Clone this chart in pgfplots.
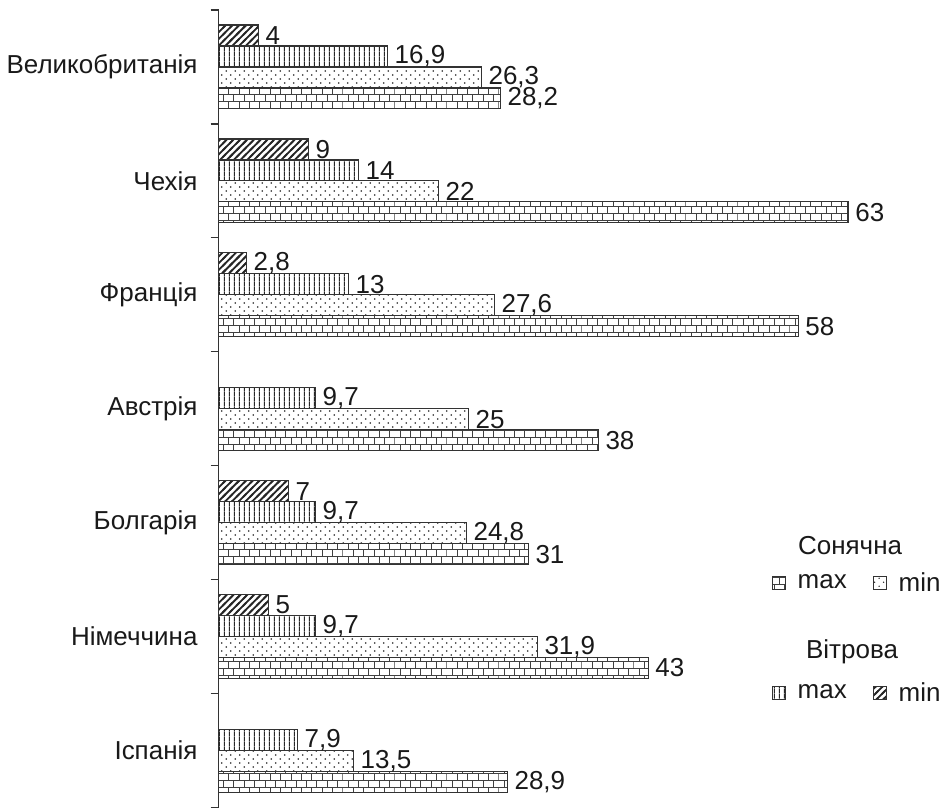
\documentclass[border=0pt]{standalone}
\usepackage{fontspec}
\setmainfont{Liberation Sans}
\usepackage{pgfplots}
\pgfplotsset{compat=1.18}
\usetikzlibrary{patterns}

% custom patterns (1px = 0.5pt)
\pgfdeclarepatternformonly{vlines}{\pgfqpoint{0pt}{0pt}}{\pgfqpoint{2.65pt}{2.65pt}}{\pgfqpoint{2.65pt}{2.65pt}}{%
  \pgfsetlinewidth{0.5pt}%
  \pgfpathmoveto{\pgfqpoint{1.325pt}{0pt}}\pgfpathlineto{\pgfqpoint{1.325pt}{2.65pt}}\pgfusepath{stroke}}
\pgfdeclarepatternformonly{hatch}{\pgfqpoint{-1pt}{-1pt}}{\pgfqpoint{4.4pt}{4.4pt}}{\pgfqpoint{3.4pt}{3.4pt}}{%
  \pgfsetlinewidth{0.9pt}%
  \pgfpathmoveto{\pgfqpoint{-1pt}{-1pt}}\pgfpathlineto{\pgfqpoint{4.4pt}{4.4pt}}\pgfusepath{stroke}}
\pgfdeclarepatternformonly{sdots}{\pgfqpoint{0pt}{0pt}}{\pgfqpoint{4.5pt}{4pt}}{\pgfqpoint{4.5pt}{4pt}}{%
  \pgfpathcircle{\pgfqpoint{1.125pt}{1pt}}{0.38pt}%
  \pgfpathcircle{\pgfqpoint{3.375pt}{3pt}}{0.38pt}%
  \pgfusepath{fill}}
\pgfdeclarepatternformonly{sbricks}{\pgfqpoint{-0.3pt}{-0.3pt}}{\pgfqpoint{5.5pt}{7.3pt}}{\pgfqpoint{5.2pt}{7pt}}{%
  \pgfsetlinewidth{0.5pt}%
  \pgfpathmoveto{\pgfqpoint{-0.3pt}{0pt}}\pgfpathlineto{\pgfqpoint{5.5pt}{0pt}}%
  \pgfpathmoveto{\pgfqpoint{-0.3pt}{3.5pt}}\pgfpathlineto{\pgfqpoint{5.5pt}{3.5pt}}%
  \pgfpathmoveto{\pgfqpoint{0pt}{0pt}}\pgfpathlineto{\pgfqpoint{0pt}{3.5pt}}%
  \pgfpathmoveto{\pgfqpoint{2.6pt}{3.5pt}}\pgfpathlineto{\pgfqpoint{2.6pt}{7pt}}%
  \pgfusepath{stroke}}

\pgfplotstableread{
y  vmin  vmax  smin  smax
0  nan   7.9   13.5  28.9
1  5     9.7   31.9  43
2  7     9.7   24.8  31
3  nan   9.7   25    38
4  2.8   13    27.6  58
5  9     14    22    63
6  4     16.9  26.3  28.2
}\datatable

\newcommand{\fs}{\fontsize{13}{15.5}\selectfont}

\begin{document}
\begin{tikzpicture}
\begin{axis}[
  x=5pt, y=57pt,
  xmin=0, xmax=72.3,
  ymin=-0.5, ymax=6.5,
  clip=false,
  axis x line=none,
  axis y line*=left,
  axis line style={black!80, line width=0.6pt},
  font=\fs,
  ytick={0,...,6},
  yticklabels={Іспанія,Німеччина,Болгарія,Австрія,Франція,Чехія,Великобританія},
  major tick length=0pt,
  minor ytick={-0.5,0.5,...,6.5},
  minor tick length=4pt,
  tick align=outside,
  minor tick style={black!80, line width=0.6pt},
  yticklabel style={font=\fs, xshift=-7pt, text=black!90},
  xbar,
  bar width=0.184,
  point meta=x,
  nodes near coords,
  nodes near coords style={font=\fs,
    /pgf/number format/assume math mode=true,
    /pgf/number format/use comma, text=black!90},
  legend columns=2,
  reverse legend,
  legend style={draw=none, fill=none, overlay, at={(axis cs:72.7,0.985)}, anchor=east,
    inner sep=0pt, text=black!90,
    font=\fs, row sep=40pt,
    /tikz/every odd column/.append style={column sep=4pt},
    /tikz/every even column/.append style={column sep=11pt}},
  legend image code/.code={\draw[#1, line width=0.5pt] (0pt,-3.25pt) rectangle (6.5pt,3.25pt);},
]
\addplot[draw=black!80, line width=0.6pt, fill=white, bar shift=0.276, postaction={pattern=hatch, pattern color=black!85}] table[x=vmin, y=y] {\datatable};
\addlegendentry{min}
\addplot[draw=black!80, line width=0.6pt, fill=white, bar shift=0.092, postaction={pattern=vlines, pattern color=black!85}] table[x=vmax, y=y] {\datatable};
\addlegendentry{max}
\addplot[draw=black!80, line width=0.6pt, fill=white, bar shift=-0.092, postaction={pattern=sdots, pattern color=black!85}] table[x=smin, y=y] {\datatable};
\addlegendentry{min}
\addplot[draw=black!80, line width=0.6pt, fill=white, bar shift=-0.276, postaction={pattern=sbricks, pattern color=black!75}] table[x=smax, y=y] {\datatable};
\addlegendentry{max}
\node[font=\fs, text=black!90] at (axis cs:63.2,1.798) {Сонячна};
\node[font=\fs, text=black!90] at (axis cs:63.4,0.868) {Вітрова};
\path (axis cs:-21.8,-0.491) rectangle (axis cs:72.3,6.588);
\end{axis}
\end{tikzpicture}
\end{document}
